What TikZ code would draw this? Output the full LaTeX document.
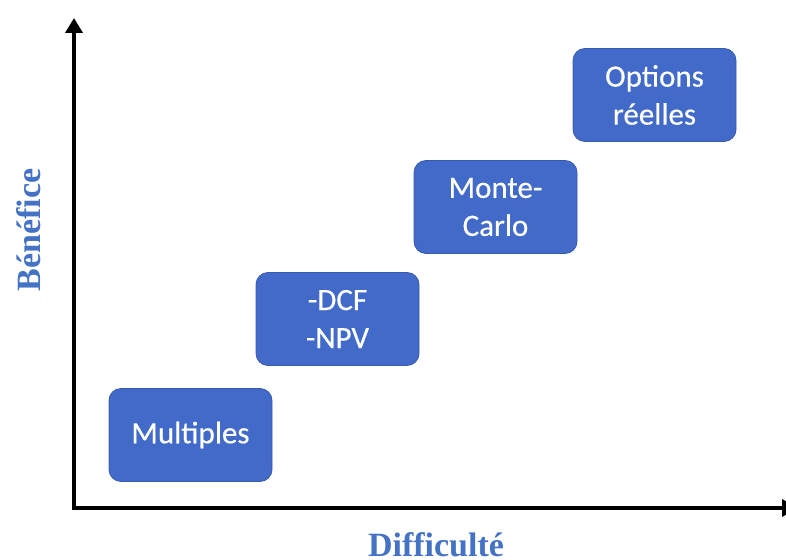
\documentclass[tikz,border=0pt]{standalone}
\usepackage{fontspec}
\setmainfont{Carlito}
\newfontfamily\labelfont{Liberation Serif}
\usetikzlibrary{arrows.meta}
\definecolor{boxblue}{RGB}{66,106,201}
\definecolor{boxedge}{RGB}{55,90,175}
\definecolor{labelblue}{RGB}{68,114,196}
\tikzset{
  method/.style={draw=boxedge, line width=0.8pt, fill=boxblue, rounded corners=12pt,
    minimum width=163pt, minimum height=93pt, inner sep=0pt, align=center,
    text=white, font=\addfontfeature{FakeBold=0.4}\fontsize{31}{38}\selectfont},
  axis/.style={line width=4pt, -{Triangle[width=17pt,length=15pt]}},
  axislabel/.style={text=labelblue, font=\labelfont\bfseries\fontsize{34}{38}\selectfont}
}
\begin{document}
\begin{tikzpicture}[x=1pt,y=1pt]
\useasboundingbox (0,0) rectangle (786,559);
\clip (0,0) rectangle (786,559);
\coordinate (o) at (74,51);
\coordinate (ytop) at (74,541);
\coordinate (xend) at (797,51);
\draw[axis] (o) -- (ytop);
\draw[axis] ([xshift=-2pt]o) -- (xend);
\node[method] (mult) at (190.5,124) {Multiples};
\node[method] (dcf) at (337.5,240) {-DCF\\-NPV};
\node[method] (mc) at (495.5,352) {Monte-\\Carlo};
\node[method] (opt) at (654.5,464) {Options\\réelles};
\node[axislabel, anchor=base] (xl) at (436,3) {Difficulté};
\node[axislabel, rotate=90, anchor=base] (yl) at (40,329) {Bénéfice};
\end{tikzpicture}
\end{document}
